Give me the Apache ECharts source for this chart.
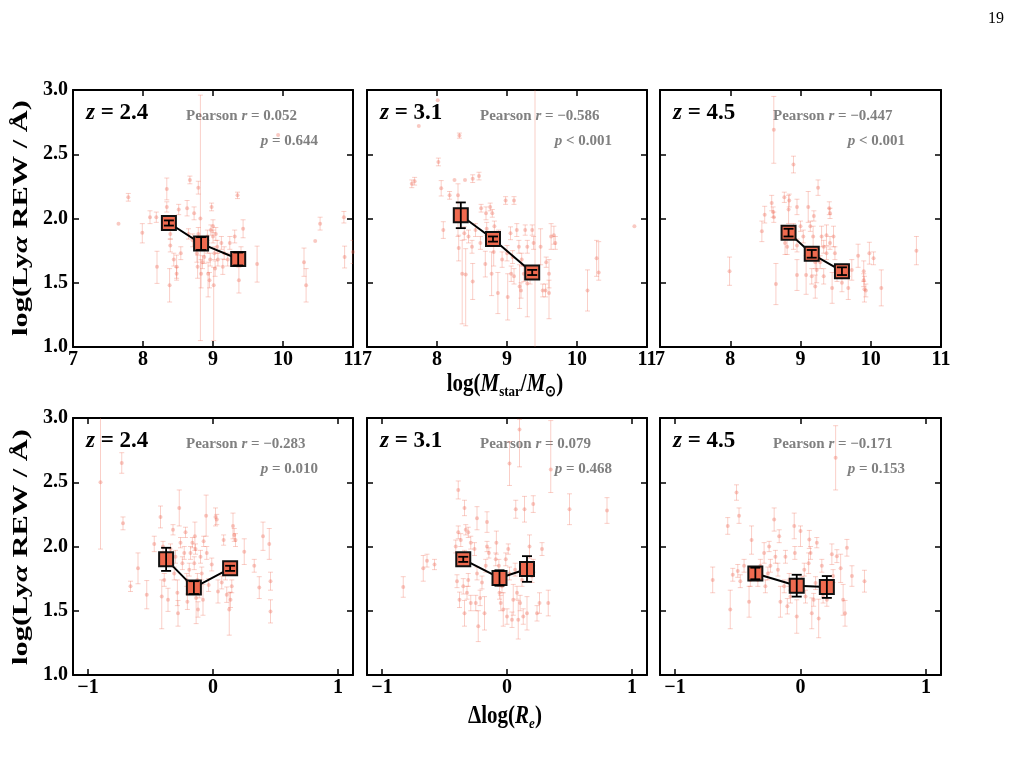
<!DOCTYPE html>
<html>
<head>
<meta charset="utf-8">
<script src="https://cdn.jsdelivr.net/npm/echarts@6/dist/echarts.min.js"></script>
<style>
html, body { margin: 0; padding: 0; background: #fff; }
#chart { width: 1013px; height: 783px; }
</style>
</head>
<body>
<div id="chart"></div>
<script>
// each point: [x, logREW, err] or [x, logREW, errLow, errHigh]
var massZ24 = [
  [7.65,1.96,0],[7.79,2.165,0.03],[7.99,1.89,0.08,0.07],[8.10,2.01,0.05],[8.19,2.01,0.04],[8.20,1.625,0.13,0.12],
  [8.34,2.23,0.085],[8.34,2.09,0.04],[8.38,1.48,0.13],[8.39,1.79,0.05],[8.39,1.88,0.04],[8.44,1.68,0.05],
  [8.48,1.625,0.09],[8.48,1.57,0.05],[8.51,2.07,0.04],[8.54,1.73,0.05],[8.63,2.08,0.06],[8.65,1.88,0.04],
  [8.67,2.30,0.03],[8.71,1.83,0.05],[8.73,2.04,0.05],[8.77,1.73,0.07],[8.78,1.625,0.09],[8.79,2.24,0.05],
  [8.79,1.88,0.05],[8.82,2.00,0.95,0.96],[8.83,1.57,0.11],[8.85,1.66,0.05],[8.875,1.70,0.05],[8.91,1.81,0.05],
  [8.92,1.86,0.05],[8.92,1.78,0.05],[8.93,1.57,0.18,0.09],[8.95,1.52,0.06],[8.96,1.68,0.05],[8.97,1.91,0.04],
  [8.98,2.09,0.03],[9.00,1.94,0.05],[9.00,1.86,0.05],[9.01,1.48,0.43,0.14],[9.02,1.73,0.05],[9.03,1.61,0.06],
  [9.04,1.88,0.05],[9.06,1.78,0.05],[9.07,1.68,0.05],[9.12,1.81,0.05],[9.14,1.625,0.06],[9.16,1.73,0.05],
  [9.21,1.68,0.05],[9.24,1.81,0.05],[9.31,1.86,0.05],[9.35,2.18,0.025],[9.37,1.52,0.10],[9.40,1.73,0.05],
  [9.43,1.92,0.07],[9.63,1.645,0.14],[9.93,2.65,0],[10.30,1.66,0.11],[10.33,1.48,0.13],[10.46,1.825,0],
  [10.53,1.96,0.05],[10.87,2.01,0.045],[10.88,1.70,0.085],[11.00,1.74,0.09]
];
var massZ31 = [
  [8.01,2.92,0],[7.74,2.72,0],[8.32,2.645,0.02],[8.02,2.44,0.03],[7.64,2.27,0.03],[7.68,2.29,0.03],
  [8.06,2.235,0.06],[8.18,2.18,0.03],[8.25,2.30,0],[8.40,2.30,0],[8.51,2.31,0.03],[8.60,2.33,0.03],
  [8.30,2.18,0.32,0.09],[8.09,1.91,0.065],[8.31,1.77,0.10],[8.36,1.57,0.39,0.26],[8.41,1.565,0.40,0.20],
  [8.39,1.885,0.05],[8.45,1.86,0.05],[8.50,1.78,0.05],[8.51,1.51,0.14],[8.55,1.91,0.05],[8.62,1.81,0.05],
  [8.63,2.08,0.03],[8.70,2.04,0.05],[8.69,1.645,0.10],[8.71,1.92,0.05],[8.76,2.09,0.03],[8.78,1.57,0.17],
  [8.79,2.04,0.03],[8.81,1.74,0.11],[8.82,1.94,0.04],[8.87,1.42,0.16],[8.88,1.86,0.05],[8.93,1.68,0.06],
  [8.98,2.14,0.03],[9.00,1.73,0.06],[9.01,1.39,0.18],[9.05,1.885,0.05],[9.06,1.57,0.06],[9.08,1.70,0.05],
  [9.10,2.14,0.03],[9.10,1.55,0.06],[9.14,1.91,0.05],[9.17,1.78,0.05],[9.18,1.47,0.17],[9.20,1.44,0.06],
  [9.21,1.68,0.05],[9.24,1.57,0.06],[9.26,1.91,0.04],[9.29,1.78,0.05],[9.29,1.495,0.26,0.13],[9.33,1.55,0.06],
  [9.36,1.91,0.04],[9.38,1.81,0.05],[9.40,1.60,0.80,1.60],[9.48,1.78,0.14],[9.51,1.44,0.05],[9.55,1.44,0.05],
  [9.56,1.66,0.04],[9.60,1.57,0.11],[9.60,1.42,0.20,0.10],[9.63,1.86,0.10],[9.67,1.87,0.07],[9.69,1.81,0.05],
  [10.15,1.44,0.16],[10.28,1.69,0.14],[10.31,1.58,0.06,0.24],[10.82,1.94,0]
];
var massZ45 = [
  [8.62,2.69,0.26],[8.90,2.42,0.065],[9.25,2.24,0.06],[8.77,2.165,0.04],[8.84,2.14,0.05],[8.59,2.12,0.06],
  [8.61,2.05,0.04],[8.49,2.03,0.065],[8.45,1.90,0.08],[8.62,2.01,0.04],[8.83,2.07,0.11],[8.95,2.09,0.06],
  [9.11,2.09,0.12],[9.19,2.02,0.04],[9.41,2.08,0.05],[9.42,2.04,0.04],[8.90,1.86,0.10],[8.95,1.79,0.05],
  [8.81,1.78,0.06],[9.00,1.94,0.04],[9.04,1.86,0.05],[9.09,1.73,0.05],[9.14,1.94,0.04],[9.18,1.86,0.08],
  [9.21,1.66,0.05],[9.30,1.86,0.08],[9.33,1.78,0.05],[9.37,1.87,0.08],[9.42,1.81,0.05],[9.47,1.86,0.08],
  [9.49,1.73,0.05],[8.95,1.56,0.12],[9.08,1.56,0.15],[9.16,1.55,0.06],[9.23,1.60,0.10],[9.21,1.47,0.09],
  [9.28,1.66,0.05],[9.33,1.55,0.06],[9.37,1.73,0.05],[9.45,1.46,0.12],[9.52,1.57,0.06],[9.59,1.50,0.07],
  [9.68,1.46,0.09],[9.73,1.60,0.08],[9.82,1.71,0.09],[9.90,1.59,0.08],[9.90,1.52,0.05],[9.91,1.45,0.10],
  [9.93,1.44,0.05],[9.98,1.73,0.085],[10.04,1.69,0.05],[10.15,1.46,0.14],[10.65,1.75,0.11],[7.99,1.59,0.11],
  [8.65,1.49,0.16],[8.78,1.81,0.09]
];
var sizeZ24 = [
  [-0.90,2.50,0.52,0.60],[-0.73,2.65,0.08],[-0.72,2.18,0.05],[-0.66,1.69,0.04],[-0.60,1.83,0.12],[-0.53,1.625,0.11],
  [-0.47,2.02,0.06],[-0.42,2.23,0.085],[-0.41,1.61,0.25,0.13],[-0.40,2.00,0.04],[-0.39,1.74,0.05],[-0.36,1.585,0.09],
  [-0.34,1.98,0.04],[-0.32,2.13,0.04],[-0.31,1.79,0.05],[-0.30,1.92,0.05],[-0.285,1.64,0.10],[-0.28,1.48,0.10],
  [-0.27,2.30,0.14],[-0.26,2.03,0.04],[-0.245,1.87,0.05],[-0.23,1.95,0.05],[-0.22,2.11,0.04],[-0.21,1.74,0.05],
  [-0.205,1.57,0.06],[-0.19,1.82,0.05],[-0.18,1.95,0.05],[-0.165,2.03,0.04],[-0.15,1.87,0.05],[-0.145,2.08,0.11],
  [-0.14,1.98,0.04],[-0.135,1.60,0.20,0.09],[-0.125,1.74,0.05],[-0.12,1.51,0.06],[-0.11,1.65,0.05],[-0.10,1.92,0.05],
  [-0.09,1.79,0.05],[-0.08,1.585,0.12],[-0.075,2.04,0.04],[-0.055,2.24,0.16],[-0.05,1.95,0.05],[-0.035,1.70,0.05],
  [-0.01,1.86,0.05],[0.02,2.23,0.07],[0.03,2.21,0.04],[0.04,1.65,0.09],[0.07,1.72,0.05],[0.085,2.05,0.04],
  [0.10,1.79,0.05],[0.11,1.625,0.06],[0.13,1.51,0.20,0.13],[0.14,1.585,0.06],[0.15,1.69,0.05],[0.16,2.16,0.10],
  [0.17,2.09,0.05],[0.18,2.05,0.05],[0.25,1.96,0.10],[0.33,1.85,0.05],[0.37,1.68,0.085],[0.40,2.08,0.11],
  [0.45,2.02,0.12],[0.46,1.73,0.07],[0.46,1.495,0.09]
];
var sizeZ31 = [
  [0.10,2.91,0.29,0.08],[0.02,2.645,0.17],[0.35,2.60,0.18,0.38],[-0.39,2.44,0.07],[-0.34,2.30,0.06],[-0.24,2.22,0.09],
  [-0.16,2.19,0.08],[0.07,2.29,0.07],[0.14,2.29,0.10],[0.21,2.33,0.065],[0.50,2.29,0.12],[0.80,2.28,0.10],
  [-0.83,1.685,0.08],[-0.67,1.83,0.10],[-0.64,1.89,0.05],[-0.58,1.86,0.04],[-0.41,2.00,0.05],[-0.39,2.11,0.05],
  [-0.37,2.05,0.05],[-0.34,1.92,0.05],[-0.33,2.13,0.04],[-0.31,2.11,0.04],[-0.31,1.74,0.05],[-0.29,2.03,0.05],
  [-0.40,1.73,0.05],[-0.38,1.585,0.06],[-0.35,1.69,0.06],[-0.34,1.48,0.10],[-0.32,1.64,0.05],[-0.29,1.56,0.06],
  [-0.26,1.98,0.05],[-0.25,1.56,0.06],[-0.24,1.79,0.05],[-0.23,1.38,0.12],[-0.215,1.60,0.06],[-0.20,1.72,0.05],
  [-0.18,1.48,0.13],[-0.17,1.85,0.05],[-0.16,2.00,0.04],[-0.145,1.95,0.04],[-0.09,1.90,0.05],[-0.085,2.03,0.09],
  [-0.065,1.85,0.05],[-0.06,1.64,0.05],[-0.05,1.56,0.06],[-0.04,1.69,0.05],[-0.03,1.51,0.13],[-0.01,1.90,0.05],
  [0.00,1.455,0.06],[0.01,1.98,0.04],[0.02,1.79,0.05],[0.04,1.43,0.06],[0.05,1.585,0.12],[0.065,1.82,0.05],
  [0.08,1.64,0.05],[0.09,1.43,0.15],[0.105,1.56,0.06],[0.12,1.74,0.05],[0.13,1.455,0.06],[0.16,1.48,0.13],
  [0.18,2.00,0.09],[0.20,1.77,0.05],[0.21,1.85,0.05],[0.24,1.48,0.06],[0.26,1.56,0.08],[0.28,1.98,0.05],
  [0.33,1.56,0.10]
];
var sizeZ45 = [
  [0.28,2.69,0.25],[-0.51,2.42,0.06],[-0.49,2.24,0.06],[-0.58,2.16,0.065],[-0.70,1.74,0.10],[-0.56,1.51,0.15],
  [-0.54,1.78,0.05],[-0.50,1.81,0.05],[-0.48,1.73,0.05],[-0.45,1.85,0.05],[-0.41,1.57,0.12],[-0.39,2.05,0.11],
  [-0.40,1.74,0.05],[-0.34,1.74,0.05],[-0.32,1.85,0.05],[-0.29,1.95,0.08],[-0.28,1.69,0.05],[-0.26,1.79,0.05],
  [-0.25,2.00,0.04],[-0.24,1.85,0.05],[-0.21,2.21,0.09],[-0.20,1.92,0.05],[-0.18,1.82,0.05],[-0.17,2.08,0.05],
  [-0.16,1.57,0.12],[-0.13,1.69,0.05],[-0.12,1.92,0.05],[-0.105,1.535,0.06],[-0.09,1.74,0.05],[-0.08,1.61,0.05],
  [-0.05,2.16,0.10],[-0.045,1.95,0.05],[-0.03,1.455,0.13],[0.00,2.12,0.12,0.04],[0.01,1.715,0.05],[0.03,1.82,0.05],
  [0.04,1.61,0.05],[0.065,1.87,0.08],[0.07,2.055,0.07],[0.08,1.95,0.05],[0.09,1.48,0.12],[0.105,1.585,0.05],
  [0.12,1.715,0.05],[0.13,2.03,0.04],[0.145,1.44,0.15],[0.17,1.85,0.05],[0.18,1.61,0.05],[0.21,1.585,0.05],
  [0.25,1.94,0.08],[0.26,1.77,0.05],[0.29,1.925,0.05],[0.32,1.83,0.11],[0.34,1.585,0.12],[0.355,1.48,0.10],
  [0.37,1.99,0.065],[0.41,1.77,0.08],[0.51,1.73,0.085]
];

// binned medians: [x, logREW, err]
var massBinZ24 = [[8.37,1.965,0.02],[8.83,1.805,0.05],[9.36,1.685,0.05]];
var massBinZ31 = [[8.34,2.025,0.10],[8.80,1.84,0.02],[9.36,1.58,0.02]];
var massBinZ45 = [[8.83,1.89,0.03],[9.16,1.725,0.03],[9.59,1.59,0.03]];
var sizeBinZ24 = [[-0.375,1.90,0.09],[-0.153,1.68,0.05],[0.137,1.83,0.02]];
var sizeBinZ31 = [[-0.35,1.90,0.02],[-0.06,1.755,0.06],[0.16,1.825,0.10]];
var sizeBinZ45 = [[-0.36,1.79,0.045],[-0.03,1.695,0.085],[0.21,1.685,0.085]];

var zLabels = ['2.4', '3.1', '4.5', '2.4', '3.1', '4.5'];
var pearsonR = ['0.052', '\u22120.586', '\u22120.447', '\u22120.283', '0.079', '\u22120.171'];
var pValues = ['= 0.644', '< 0.001', '< 0.001', '= 0.010', '= 0.468', '= 0.153'];

var massTicks = [7, 8, 9, 10, 11];
var sizeTicks = [-1, 0, 1];
var rewTicks = [1.0, 1.5, 2.0, 2.5, 3.0];

var points = [massZ24, massZ31, massZ45, sizeZ24, sizeZ31, sizeZ45];
var bins = [massBinZ24, massBinZ31, massBinZ45, sizeBinZ24, sizeBinZ31, sizeBinZ45];

var SERIF = 'Liberation Serif';
var lefts = [73, 367, 660];
var widths = [280, 280, 281];
var tops = [90, 418];
var H = 257;

function withErr(arr) {
  return arr.map(function (p) {
    return [p[0], p[1], p[2], p.length > 3 ? p[3] : p[2]];
  });
}

// vertical error bar with caps
function errRender(color, cap, width) {
  return function (params, api) {
    var x = api.value(0), y = api.value(1), lo = api.value(2), hi = api.value(3);
    if (!(lo > 0 || hi > 0)) return null;
    var a = api.coord([x, y - lo]);
    var b = api.coord([x, y + hi]);
    var st = { stroke: color, lineWidth: width };
    return {
      type: 'group',
      children: [
        { type: 'line', shape: { x1: a[0], y1: a[1], x2: b[0], y2: b[1] }, style: st },
        { type: 'line', shape: { x1: a[0] - cap, y1: a[1], x2: a[0] + cap, y2: a[1] }, style: st },
        { type: 'line', shape: { x1: b[0] - cap, y1: b[1], x2: b[0] + cap, y2: b[1] }, style: st }
      ]
    };
  };
}

var grids = [], xAxes = [], yAxes = [], series = [], graphics = [];
var axisLineStyle = { show: true, onZero: false, lineStyle: { color: '#000', width: 2 } };
var tickStyle = { show: true, inside: true, length: 6, lineStyle: { color: '#000', width: 1.5 } };
var labelFont = { fontFamily: SERIF, fontWeight: 'bold', fontSize: 20, color: '#000' };

for (var i = 0; i < 6; i++) {
  var row = Math.floor(i / 3), col = i % 3;
  var L = lefts[col], T = tops[row];
  grids.push({ left: L, top: T, width: widths[col], height: H, show: false });

  var isMass = row === 0;
  var xmin = isMass ? 7 : -1.12, xmax = isMass ? 11 : 1.12;
  var xt = isMass ? massTicks : sizeTicks;
  var xBase = {
    gridIndex: i, type: 'value', min: xmin, max: xmax,
    axisLine: axisLineStyle, splitLine: { show: false }
  };
  xAxes.push(Object.assign({}, xBase, {
    position: 'bottom',
    axisTick: Object.assign({ customValues: xt }, tickStyle),
    axisLabel: Object.assign({
      customValues: xt, margin: 3,
      formatter: function (v) { return v < 0 ? '\u2212' + Math.abs(v) : String(v); }
    }, labelFont)
  }));
  xAxes.push(Object.assign({}, xBase, {
    position: 'top',
    axisTick: Object.assign({ customValues: xt }, tickStyle),
    axisLabel: { show: false }
  }));

  var yBase = {
    gridIndex: i, type: 'value', min: 1, max: 3,
    axisLine: axisLineStyle, splitLine: { show: false }
  };
  yAxes.push(Object.assign({}, yBase, {
    position: 'left',
    axisTick: Object.assign({ customValues: rewTicks }, tickStyle),
    axisLabel: Object.assign({
      show: col === 0, customValues: rewTicks, margin: 5,
      formatter: function (v) { return v.toFixed(1); }
    }, labelFont)
  }));
  yAxes.push(Object.assign({}, yBase, {
    position: 'right',
    axisTick: Object.assign({ customValues: rewTicks }, tickStyle),
    axisLabel: { show: false }
  }));

  var pts = withErr(points[i]);
  series.push({
    type: 'custom', xAxisIndex: 2 * i, yAxisIndex: 2 * i, clip: true, silent: true,
    renderItem: errRender('rgba(238,105,85,0.32)', 2.5, 1),
    encode: { x: 0, y: 1 }, data: pts, z: 2
  });
  series.push({
    type: 'scatter', xAxisIndex: 2 * i, yAxisIndex: 2 * i, clip: true, silent: true,
    symbolSize: 4, itemStyle: { color: 'rgba(238,105,85,0.45)' },
    data: pts.map(function (p) { return [p[0], p[1]]; }), z: 3
  });
  var bn = withErr(bins[i]);
  series.push({
    type: 'custom', xAxisIndex: 2 * i, yAxisIndex: 2 * i, clip: true, silent: true,
    renderItem: errRender('#000', 5, 1.8),
    encode: { x: 0, y: 1 }, data: bn, z: 6
  });
  series.push({
    type: 'line', xAxisIndex: 2 * i, yAxisIndex: 2 * i, silent: true,
    symbol: 'rect', symbolSize: 14, showAllSymbol: true,
    lineStyle: { color: '#000', width: 2 },
    itemStyle: { color: '#ef6a4f', borderColor: '#111', borderWidth: 2 },
    data: bn.map(function (p) { return [p[0], p[1]]; }), z: 5
  });

  graphics.push({
    type: 'text', x: L + 13, y: T + 23,
    style: {
      text: '{i|z}{b| = ' + zLabels[i] + '}', align: 'left', verticalAlign: 'middle',
      rich: {
        i: { fontFamily: SERIF, fontWeight: 'bold', fontStyle: 'italic', fontSize: 23, fill: '#000' },
        b: { fontFamily: SERIF, fontWeight: 'bold', fontSize: 23, fill: '#000' }
      }
    }
  });
  var grey = '#808080';
  graphics.push({
    type: 'text', x: L + 113, y: T + 26,
    style: {
      text: '{b|Pearson }{i|r}{b| = ' + pearsonR[i] + '}', align: 'left', verticalAlign: 'middle',
      rich: {
        i: { fontFamily: SERIF, fontWeight: 'bold', fontStyle: 'italic', fontSize: 15, fill: grey },
        b: { fontFamily: SERIF, fontWeight: 'bold', fontSize: 15, fill: grey }
      }
    }
  });
  graphics.push({
    type: 'text', x: L + 245, y: T + 51,
    style: {
      text: '{i|p}{b| ' + pValues[i] + '}', align: 'right', verticalAlign: 'middle',
      rich: {
        i: { fontFamily: SERIF, fontWeight: 'bold', fontStyle: 'italic', fontSize: 15, fill: grey },
        b: { fontFamily: SERIF, fontWeight: 'bold', fontSize: 15, fill: grey }
      }
    }
  });
}

var titleRich = {
  b: { fontFamily: SERIF, fontWeight: 'bold', fontSize: 21, fill: '#000', lineHeight: 26 },
  bi: { fontFamily: SERIF, fontWeight: 'bold', fontStyle: 'italic', fontSize: 21, fill: '#000', lineHeight: 26 },
  s: { fontFamily: SERIF, fontWeight: 'bold', fontSize: 13, fill: '#000', lineHeight: 14, verticalAlign: 'bottom' },
  si: { fontFamily: SERIF, fontWeight: 'bold', fontStyle: 'italic', fontSize: 13, fill: '#000', lineHeight: 14, verticalAlign: 'bottom' }
};

[218, 547].forEach(function (cy) {
  graphics.push({
    type: 'text', x: 22, y: cy, rotation: Math.PI / 2, scaleX: 1.45, scaleY: 0.95,
    style: {
      text: '{b|log(Ly}{bi|\u03b1}{b| REW / \u00c5)}', align: 'center', verticalAlign: 'middle',
      rich: titleRich
    }
  });
});
graphics.push({
  type: 'text', x: 505, y: 385, scaleY: 1.15,
  style: {
    text: '{b|log(}{bi|M}{s|star}{b|/}{bi|M}{s|\u2299}{b|)}', align: 'center', verticalAlign: 'middle',
    rich: titleRich
  }
});
graphics.push({
  type: 'text', x: 505, y: 717, scaleY: 1.15,
  style: {
    text: '{b|\u0394log(}{bi|R}{si|e}{b|)}', align: 'center', verticalAlign: 'middle',
    rich: titleRich
  }
});
graphics.push({
  type: 'text', x: 1004, y: 19,
  style: { text: '19', align: 'right', verticalAlign: 'middle', fontFamily: SERIF, fontSize: 16, fill: '#000' }
});

var chart = echarts.init(document.getElementById('chart'), null, { renderer: 'canvas' });
chart.setOption({
  animation: false,
  backgroundColor: '#fff',
  grid: grids,
  xAxis: xAxes,
  yAxis: yAxes,
  series: series,
  graphic: graphics
});
</script>
</body>
</html>
